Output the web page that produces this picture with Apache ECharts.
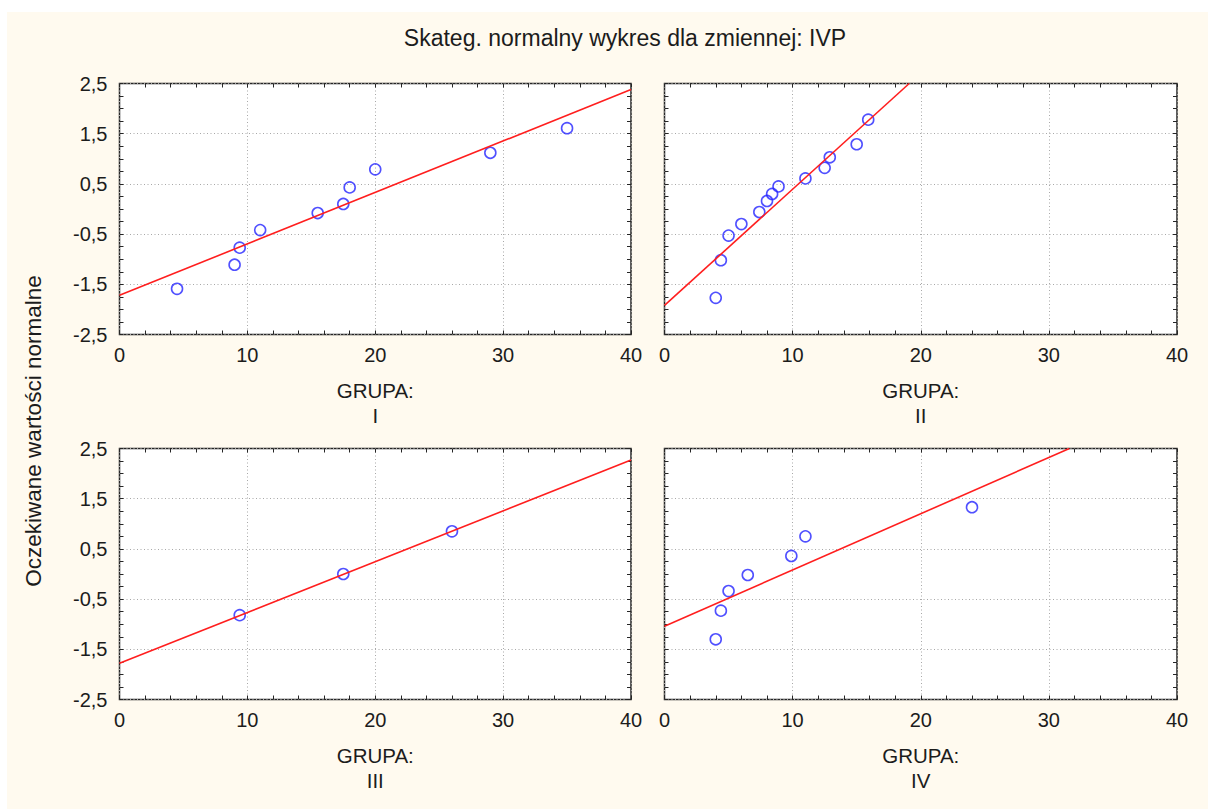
<!DOCTYPE html>
<html>
<head>
<meta charset="utf-8">
<script src="https://cdn.jsdelivr.net/npm/echarts@6/dist/echarts.min.js"></script>
<style>
html,body{margin:0;padding:0;background:#ffffff;}
#bg{position:absolute;left:7px;top:12px;right:0;bottom:0;background:#fffaef;}
#chart{position:absolute;left:0;top:0;width:1208px;height:809px;}
</style>
</head>
<body>
<div id="bg"></div>
<div id="chart"></div>
<script>
// ---- data ----
const chartTitle = 'Skateg. normalny wykres dla zmiennej: IVP';
const yAxisTitle = 'Oczekiwane wartości normalne';
const xAxisTitle = 'GRUPA:';
const groupNames = ['I', 'II', 'III', 'IV'];

const xMin = 0, xMax = 40, xStep = 10;
const yMin = -2.5, yMax = 2.5, yStep = 1;

const g1x = [4.5, 9, 9.4, 11, 15.5, 17.5, 18, 20, 29, 35];
const g1y = [-1.59, -1.11, -0.77, -0.42, -0.08, 0.10, 0.43, 0.79, 1.12, 1.61];
const line1 = [[0, -1.72], [40, 2.38]];

const g2x = [4, 4.4, 5, 6, 7.4, 8, 8.4, 8.9, 11, 12.5, 12.9, 15, 15.9];
const g2y = [-1.77, -1.02, -0.53, -0.30, -0.06, 0.16, 0.30, 0.45, 0.61, 0.82, 1.03, 1.29, 1.78];
const line2 = [[0, -1.92], [19.1, 2.5]];

const g3x = [9.4, 17.5, 26];
const g3y = [-0.82, 0.0, 0.85];
const line3 = [[0, -1.78], [40, 2.27]];

const g4x = [4, 4.4, 5, 6.5, 9.9, 11, 24];
const g4y = [-1.30, -0.73, -0.34, -0.02, 0.36, 0.75, 1.33];
const line4 = [[0, -1.04], [31.6, 2.5]];

const pointsX = [g1x, g2x, g3x, g4x];
const pointsY = [g1y, g2y, g3y, g4y];
const fitLines = [line1, line2, line3, line4];

// ---- layout / style ----
const FONT = '"Liberation Sans", Arial, sans-serif';
const TXT = '#1c1c1c';
const grids = [
  {left: 119.5, top: 83.5, width: 511.5, height: 251},
  {left: 664.5, top: 83.5, width: 512.5, height: 251},
  {left: 119.5, top: 448.5, width: 511.5, height: 251},
  {left: 664.5, top: 448.5, width: 512.5, height: 251}
];
const fmt = v => String(v).replace('.', ',');

const option = {
  animation: false,
  backgroundColor: 'transparent',
  grid: grids.map(g => Object.assign({
    show: true, backgroundColor: '#ffffff', borderColor: '#262626', borderWidth: 1.5,
    containLabel: false
  }, g)),
  xAxis: [],
  yAxis: [],
  series: [],
  graphic: [
    {type: 'text', x: 625, y: 38, silent: true,
     style: {text: chartTitle, fill: TXT, font: '23px ' + FONT, textAlign: 'center', textVerticalAlign: 'middle'}},
    {type: 'text', x: 33, y: 431, rotation: Math.PI / 2, silent: true,
     style: {text: yAxisTitle, fill: TXT, font: '22.5px ' + FONT, textAlign: 'center', textVerticalAlign: 'middle'}}
  ]
};

const tickLine = {color: '#262626', width: 1};
const gridLine = {color: '#a8a8a8', type: [1, 2.5], width: 1};
for (let i = 0; i < 4; i++) {
  // bottom x axis
  option.xAxis.push({
    type: 'value', gridIndex: i, position: 'bottom', min: xMin, max: xMax, interval: xStep,
    axisLine: {show: false, onZero: false},
    axisTick: {show: true, inside: true, length: 4, lineStyle: tickLine},
    minorTick: {show: true, splitNumber: 5, length: 4, lineStyle: tickLine},
    splitLine: {show: true, lineStyle: gridLine},
    axisLabel: {color: TXT, fontFamily: FONT, fontSize: 20, margin: 10, formatter: fmt},
    name: xAxisTitle + '\n' + groupNames[i], nameLocation: 'middle', nameGap: 43,
    nameTextStyle: {color: TXT, fontFamily: FONT, fontSize: 20.5, lineHeight: 25}
  });
  // top x axis (ticks only)
  option.xAxis.push({
    type: 'value', gridIndex: i, position: 'top', min: xMin, max: xMax, interval: xStep,
    axisLine: {show: false, onZero: false},
    axisTick: {show: true, inside: true, length: 4, lineStyle: tickLine},
    minorTick: {show: true, splitNumber: 5, length: 4, lineStyle: tickLine},
    splitLine: {show: false}, axisLabel: {show: false}
  });
  // left y axis
  option.yAxis.push({
    type: 'value', gridIndex: i, position: 'left', min: yMin, max: yMax, interval: yStep,
    axisLine: {show: false, onZero: false},
    axisTick: {show: true, inside: true, length: 4, lineStyle: tickLine},
    minorTick: {show: true, splitNumber: 4, length: 4, lineStyle: tickLine},
    splitLine: {show: true, lineStyle: gridLine},
    axisLabel: {show: i % 2 === 0, color: TXT, fontFamily: FONT, fontSize: 20, margin: 12, formatter: fmt}
  });
  // right y axis (ticks only)
  option.yAxis.push({
    type: 'value', gridIndex: i, position: 'right', min: yMin, max: yMax, interval: yStep,
    axisLine: {show: false, onZero: false},
    axisTick: {show: true, inside: true, length: 4, lineStyle: tickLine},
    minorTick: {show: true, splitNumber: 4, length: 4, lineStyle: tickLine},
    splitLine: {show: false}, axisLabel: {show: false}
  });

  option.series.push({
    type: 'line', xAxisIndex: 2 * i, yAxisIndex: 2 * i, data: fitLines[i],
    showSymbol: false, symbol: 'none', clip: true, silent: true,
    lineStyle: {color: '#ff1e1e', width: 1.6}
  });
  option.series.push({
    type: 'scatter', xAxisIndex: 2 * i, yAxisIndex: 2 * i,
    data: pointsX[i].map((x, k) => [x, pointsY[i][k]]),
    symbol: 'circle', symbolSize: 11, silent: true,
    itemStyle: {color: 'rgba(0,0,0,0)', borderColor: '#2424ff', borderWidth: 1.6}
  });
}

const chart = echarts.init(document.getElementById('chart'), null, {renderer: 'svg', width: 1208, height: 809});
chart.setOption(option);
</script>
</body>
</html>
